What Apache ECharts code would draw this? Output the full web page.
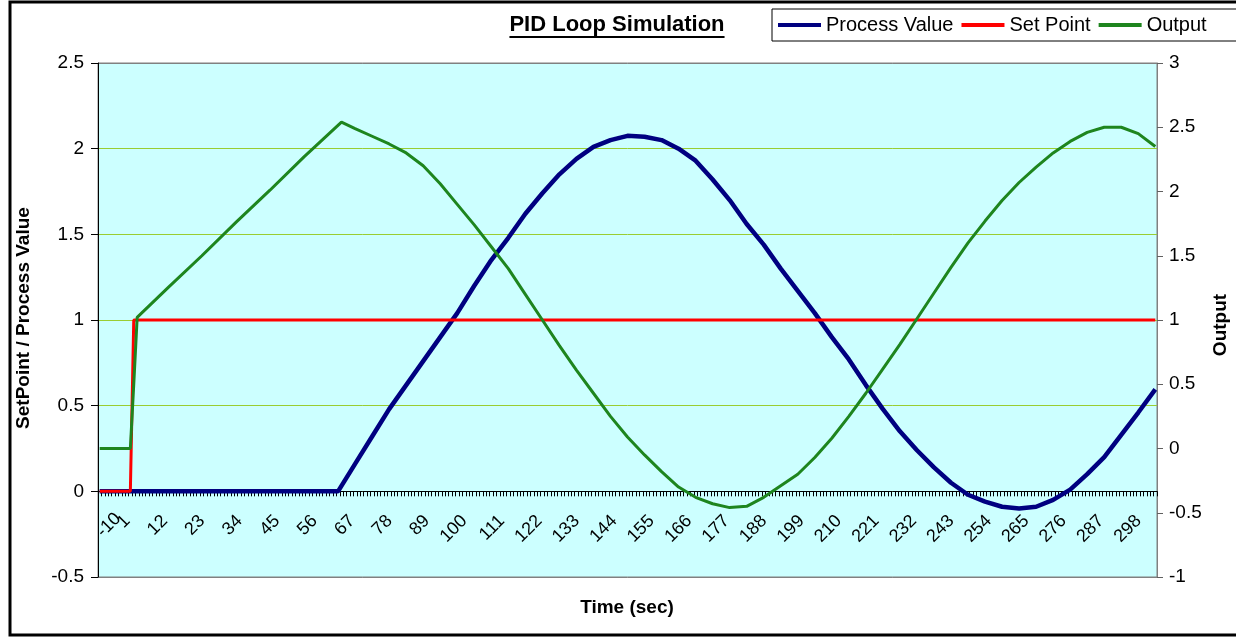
<!DOCTYPE html>
<html>
<head>
<meta charset="utf-8">
<script src="https://cdn.jsdelivr.net/npm/echarts@6/dist/echarts.min.js"></script>
<style>
html,body{margin:0;padding:0;background:#fff;}
#chart{width:1236px;height:638px;}
</style>
</head>
<body>
<div id="chart"></div>
<script>
// ---- data ----
const timeStart = -10, timeEnd = 300;
const tickLabels = ['-10','1','12','23','34','45','56','67','78','89','100','111','122','133','144','155','166','177','188','199','210','221','232','243','254','265','276','287','298'];

const spTime  = [-10, -1, 0, 300];
const spValue = [0, 0, 1, 1];

const pvTime  = [-10, 60, 65, 70, 75, 80, 85, 90, 95, 100, 105, 110, 115, 120, 125, 130, 135, 140, 145, 150,
                 155, 160, 165, 170, 175, 180, 185, 190, 195, 200, 205, 210, 215, 220, 225, 230, 235, 240, 245, 250,
                 255, 260, 265, 270, 275, 280, 285, 290, 295, 300];
const pvValue = [0, 0, 0.16, 0.32, 0.48, 0.62, 0.76, 0.90, 1.04, 1.20, 1.35, 1.48, 1.62, 1.74, 1.85, 1.94, 2.01, 2.05, 2.075, 2.07,
                 2.05, 2.00, 1.93, 1.82, 1.70, 1.56, 1.44, 1.30, 1.17, 1.04, 0.90, 0.77, 0.62, 0.48, 0.35, 0.24, 0.14, 0.05, -0.02, -0.06,
                 -0.09, -0.10, -0.09, -0.05, 0.01, 0.10, 0.20, 0.33, 0.46, 0.595];

const outTime  = [-10, -1, 0, 1, 10, 20, 30, 40, 50, 61, 65, 70, 75, 80, 85, 90, 95, 100, 105, 110,
                  115, 120, 125, 130, 135, 140, 145, 150, 155, 160, 165, 170, 175, 180, 185, 190, 195, 200, 205, 210,
                  215, 220, 225, 230, 235, 240, 245, 250, 255, 260, 265, 270, 275, 280, 285, 290, 295, 300];
const outValue = [0, 0, 0.5, 1.02, 1.25, 1.50, 1.76, 2.01, 2.27, 2.54, 2.49, 2.43, 2.37, 2.30, 2.20, 2.06, 1.90, 1.74, 1.57, 1.40,
                  1.20, 1.00, 0.80, 0.61, 0.43, 0.25, 0.09, -0.05, -0.18, -0.30, -0.38, -0.43, -0.46, -0.45, -0.38, -0.29, -0.20, -0.07, 0.08, 0.25,
                  0.43, 0.62, 0.81, 1.01, 1.21, 1.41, 1.60, 1.77, 1.93, 2.07, 2.19, 2.30, 2.39, 2.46, 2.50, 2.50, 2.45, 2.35];

const categories = [];
for (let t = timeStart; t <= timeEnd; t++) categories.push(String(t));

const pairs = (ts, vs) => ts.map((t, i) => [String(t), vs[i]]);

// ---- chart ----
const FONT = '"Liberation Sans", Arial, sans-serif';
const chart = echarts.init(document.getElementById('chart'), null, {renderer: 'canvas'});

const titleText = 'PID Loop Simulation';
const titleFont = 'bold 22px ' + FONT;
const mctx = document.createElement('canvas').getContext('2d');
mctx.font = titleFont;
const titleW = mctx.measureText(titleText).width;
const titleCX = 617;

const gridTop = 63, gridBottom = 61, chartH = 638;
const yMin = -0.5, yMax = 2.5;
const plotH = chartH - gridTop - gridBottom;
const zeroOffset = -plotH * (0 - yMin) / (yMax - yMin); // move x axis up to the 0 line

const firstLabel = tickLabels[0];
const otherLabels = tickLabels.slice(1);

const option = {
  backgroundColor: '#ffffff',
  animation: false,
  textStyle: {fontFamily: FONT, color: '#000'},
  grid: {left: 98, right: 79, top: gridTop, bottom: gridBottom, show: true, backgroundColor: '#CCFFFF', borderColor: '#808080', borderWidth: 1},
  legend: {
    data: ['Process Value', 'Set Point', 'Output'],
    left: 772, top: 9, width: 520,
    icon: 'rect', itemWidth: 43, itemHeight: 4, itemGap: 8,
    textStyle: {fontFamily: FONT, fontSize: 20, color: '#000'},
    borderColor: '#000', borderWidth: 1, padding: [6, 30, 6, 6],
    backgroundColor: '#fff'
  },
  xAxis: [
    {
      type: 'category',
      data: categories,
      boundaryGap: true,
      position: 'bottom',
      offset: zeroOffset,
      axisLine: {onZero: false, lineStyle: {color: '#000', width: 1}},
      axisTick: {show: true, interval: 0, length: 5, lineStyle: {color: '#000'}},
      axisLabel: {
        interval: (idx, val) => otherLabels.indexOf(val) >= 0,
        rotate: 45, margin: 17, padding: [0, 14, 0, 0], fontSize: 18, color: '#000', fontFamily: FONT
      },
      splitLine: {show: false}
    },
    {
      // first label is pushed inside the plot, as in the reference
      type: 'category',
      data: categories,
      boundaryGap: true,
      position: 'bottom',
      offset: zeroOffset,
      axisLine: {show: false, onZero: false},
      axisTick: {show: false},
      axisLabel: {
        interval: (idx, val) => val === firstLabel,
        rotate: 45, align: 'left', margin: 43, fontSize: 18, color: '#000', fontFamily: FONT
      },
      splitLine: {show: false}
    }
  ],
  yAxis: [
    {
      type: 'value', min: yMin, max: yMax, interval: 0.5,
      axisLine: {show: true, lineStyle: {color: '#000'}},
      axisTick: {show: true, length: 7, lineStyle: {color: '#000'}},
      axisLabel: {fontSize: 19, color: '#000', margin: 14, fontFamily: FONT},
      splitLine: {show: true, lineStyle: {color: ['#808080', '#9ACD32', '#9ACD32', '#9ACD32', '#9ACD32', '#9ACD32', '#808080'], width: 1}}
    },
    {
      type: 'value', min: -1, max: 3, interval: 0.5, position: 'right',
      axisLine: {show: true, lineStyle: {color: '#808080'}},
      axisTick: {show: true, length: 6, lineStyle: {color: '#606060'}},
      axisLabel: {fontSize: 19, color: '#000', margin: 12, fontFamily: FONT},
      splitLine: {show: false}
    }
  ],
  series: [
    {name: 'Process Value', type: 'line', xAxisIndex: 0, yAxisIndex: 0, data: pairs(pvTime, pvValue), showSymbol: false, symbol: 'none',
     lineStyle: {color: '#000080', width: 4.5}, itemStyle: {color: '#000080'}},
    {name: 'Set Point', type: 'line', xAxisIndex: 0, yAxisIndex: 0, data: pairs(spTime, spValue), showSymbol: false, symbol: 'none',
     lineStyle: {color: '#FF0000', width: 3}, itemStyle: {color: '#FF0000'}},
    {name: 'Output', type: 'line', xAxisIndex: 0, yAxisIndex: 1, data: pairs(outTime, outValue), showSymbol: false, symbol: 'none',
     lineStyle: {color: '#1E851E', width: 3}, itemStyle: {color: '#1E851E'}}
  ],
  graphic: [
    {type: 'rect', silent: true, z: 100, shape: {x: 10, y: 2, width: 1240, height: 633},
     style: {fill: 'none', stroke: '#000', lineWidth: 3}},
    {type: 'text', x: titleCX, y: 25, style: {text: titleText, font: titleFont, fill: '#000', align: 'center', verticalAlign: 'middle'}},
    {type: 'line', shape: {x1: titleCX - titleW / 2, y1: 37, x2: titleCX + titleW / 2, y2: 37}, style: {stroke: '#000', lineWidth: 2}},
    {type: 'text', x: 24, y: 318, rotation: Math.PI / 2,
     style: {text: 'SetPoint / Process Value', font: 'bold 19px ' + FONT, fill: '#000', align: 'center', verticalAlign: 'middle'}},
    {type: 'text', x: 1221, y: 325, rotation: Math.PI / 2,
     style: {text: 'Output', font: 'bold 19px ' + FONT, fill: '#000', align: 'center', verticalAlign: 'middle'}},
    {type: 'text', x: 627, y: 608,
     style: {text: 'Time (sec)', font: 'bold 19px ' + FONT, fill: '#000', align: 'center', verticalAlign: 'middle'}}
  ]
};
chart.setOption(option);
</script>
</body>
</html>
